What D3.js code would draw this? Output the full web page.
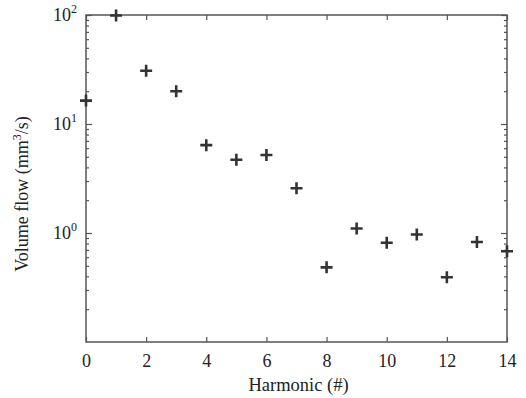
<!DOCTYPE html>
<html>
<head>
<meta charset="utf-8">
<script src="https://cdn.jsdelivr.net/npm/d3@7"></script>
<style>
  html, body { margin: 0; padding: 0; background: #fff; }
</style>
</head>
<body>
<div id="chart"></div>
<script>
// harmonic number vs volume flow (log y)
const harmonics = [0, 1, 2, 3, 4, 5, 6, 7, 8, 9, 10, 11, 12, 13, 14];
const volumeFlow = [16.4, 99, 30.8, 20, 6.4, 4.7, 5.2, 2.57, 0.484, 1.10, 0.815, 0.97, 0.393, 0.826, 0.68];
const xTicks = [0, 2, 4, 6, 8, 10, 12, 14];
const yDecades = [1, 10, 100];
const yExponents = ["0", "1", "2"];

const width = 526, height = 398;
const margin = {top: 15, right: 19, bottom: 56, left: 86};
const iw = width - margin.left - margin.right;
const ih = height - margin.top - margin.bottom;
const serif = "'Liberation Serif', 'Times New Roman', Times, serif";

const svg = d3.select("#chart").append("svg")
  .attr("width", width).attr("height", height);
const g = svg.append("g").attr("transform", `translate(${margin.left},${margin.top})`);

const x = d3.scaleLinear().domain([0, 14]).range([0, iw]);
const y = d3.scaleLog().domain([0.1, 100]).range([ih, 0]);

// minor ticks 2..9 per decade
const minor = [];
[0.1, 1, 10].forEach(d => { for (let k = 2; k <= 9; k++) minor.push(d * k); });

const axisColor = "#555";

function styleAxis(sel) {
  sel.select(".domain").remove();
  sel.selectAll(".tick line").attr("stroke", axisColor).attr("stroke-width", 1.2);
}

// bottom + top x axes (ticks inward)
g.append("g").attr("transform", `translate(0,${ih})`)
  .call(d3.axisBottom(x).tickValues(xTicks).tickSizeInner(-5).tickSizeOuter(0).tickPadding(12))
  .call(styleAxis)
  .call(a => a.selectAll("text")
    .attr("font-family", serif).attr("font-size", 18).attr("fill", "#222"));
g.append("g")
  .call(d3.axisTop(x).tickValues(xTicks).tickSizeInner(-5).tickSizeOuter(0).tickFormat(""))
  .call(styleAxis);

// left + right y axes, majors and minors
g.append("g")
  .call(d3.axisLeft(y).tickValues(yDecades).tickSizeInner(-6).tickSizeOuter(0).tickFormat(""))
  .call(styleAxis);
g.append("g")
  .call(d3.axisLeft(y).tickValues(minor).tickSizeInner(-3).tickSizeOuter(0).tickFormat(""))
  .call(styleAxis);
g.append("g").attr("transform", `translate(${iw},0)`)
  .call(d3.axisRight(y).tickValues(yDecades).tickSizeInner(-6).tickSizeOuter(0).tickFormat(""))
  .call(styleAxis);
g.append("g").attr("transform", `translate(${iw},0)`)
  .call(d3.axisRight(y).tickValues(minor).tickSizeInner(-3).tickSizeOuter(0).tickFormat(""))
  .call(styleAxis);

// y tick labels as 10^n
yDecades.forEach((d, i) => {
  const t = g.append("text")
    .attr("x", -9)
    .attr("y", y(d) + 6)
    .attr("text-anchor", "end")
    .attr("font-family", serif)
    .attr("font-size", 18)
    .attr("fill", "#222");
  t.append("tspan").text("10");
  t.append("tspan").attr("dy", -8).attr("font-size", 12).text(yExponents[i]);
});

// frame
g.append("rect")
  .attr("width", iw).attr("height", ih)
  .attr("fill", "none").attr("stroke", axisColor).attr("stroke-width", 1.5);

// plus markers
const s = 6;
const pts = g.append("g").selectAll("g")
  .data(harmonics.map((h, i) => ({h, v: volumeFlow[i]})))
  .join("g")
  .attr("transform", d => `translate(${x(d.h)},${y(d.v)})`);
pts.append("path")
  .attr("d", `M${-s},0H${s}M0,${-s}V${s}`)
  .attr("stroke", "#333").attr("stroke-width", 2.6).attr("fill", "none");

// axis titles
svg.append("text")
  .attr("x", margin.left + iw / 2 + 2)
  .attr("y", 391)
  .attr("text-anchor", "middle")
  .attr("font-family", serif)
  .attr("font-size", 18.5)
  .attr("fill", "#222")
  .text("Harmonic (#)");

const yl = svg.append("text")
  .attr("transform", `translate(28,${194}) rotate(-90)`)
  .attr("text-anchor", "middle")
  .attr("font-family", serif)
  .attr("font-size", 18)
  .attr("fill", "#222");
yl.append("tspan").text("Volume flow (mm");
yl.append("tspan").attr("dy", -7).attr("font-size", 12).text("3");
yl.append("tspan").attr("dy", 7).text("/s)");
</script>
</body>
</html>
